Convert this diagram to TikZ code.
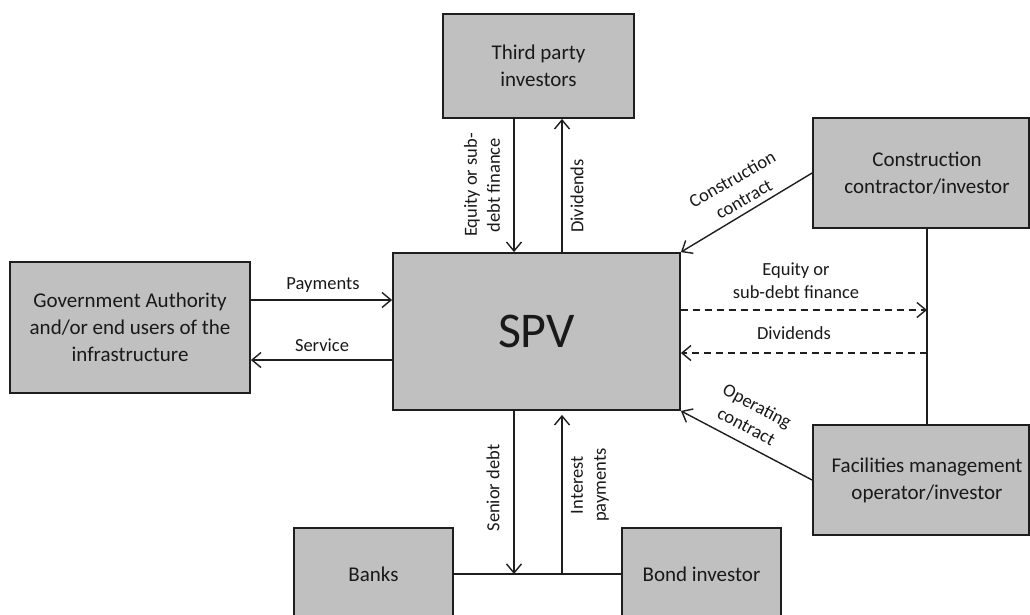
\documentclass[tikz,border=0pt]{standalone}
\usepackage{fontspec}
\setmainfont{Carlito}
\usetikzlibrary{arrows.meta}
\definecolor{boxgray}{HTML}{C0C0C0}
\definecolor{edge}{HTML}{1E1E1E}
\newcommand{\boxfont}{\fontsize{21}{27}\selectfont}
\newcommand{\lblfont}{\fontsize{18.5}{23}\selectfont}
\tikzset{
  box/.style={draw=edge, line width=1.8pt, fill=boxgray, inner sep=0pt,
    font=\boxfont, align=center, text=black!90},
  flow/.style={line width=1.4pt, draw=edge,
    -{Straight Barb[length=9pt,width=15pt,line width=1.4pt]}},
  link/.style={line width=1.4pt, draw=edge},
  dashflow/.style={flow, dash pattern=on 7pt off 5pt},
  lbl/.style={font=\lblfont, align=center, inner sep=1pt, text=black!90}
}
\begin{document}
\begin{tikzpicture}[x=1pt,y=-1pt]
\useasboundingbox (0,0) rectangle (1030,614);
\clip (0,0) rectangle (1030,614);

% parties
\node[box, minimum width=191pt, minimum height=104pt] (tp) at (538.5,66) {Third party\\investors};
\node[box, minimum width=240pt, minimum height=131pt] (gov) at (130,327.5) {Government Authority\\and/or end users of the\\infrastructure};
\node[box, minimum width=287pt, minimum height=157pt, font=\fontsize{50}{58}\selectfont] (spv) at (536.5,331.5) {SPV};
\node[box, minimum width=216pt, minimum height=110pt,
  label={[lbl, font=\boxfont, xshift=6pt]center:Construction\\contractor/investor}] (cc) at (921,173) {};
\node[box, minimum width=216pt, minimum height=110pt,
  label={[lbl, font=\boxfont, xshift=6pt]center:Facilities management\\operator/investor}] (fm) at (921,480) {};
\node[box, minimum width=159pt, minimum height=92pt] (banks) at (373.5,574) {Banks};
\node[box, minimum width=159pt, minimum height=92pt] (bond) at (701.5,574) {Bond investor};

% reference positions for the flows
\coordinate (xa) at (514,0);
\coordinate (xb) at (562,0);
\coordinate (xl) at (927,0);
\coordinate (ya) at (0,300);
\coordinate (yb) at (0,360);
\coordinate (eqend) at (927,310);
\coordinate (divstart) at (927,353);
\coordinate (sd) at (514,574);
\coordinate (ip) at (562,574);

% third party investors
\draw[flow] (tp.south -| xa) -- (spv.north -| xa);
\draw[flow] (spv.north -| xb) -- (tp.south -| xb);
\node[lbl, rotate=90] at (482,185) {Equity or sub-\\debt finance};
\node[lbl, rotate=90] at (577,196) {Dividends};

% government / users
\draw[flow] (gov.east |- ya) -- (spv.west |- ya);
\draw[flow] (spv.west |- yb) -- (gov.east |- yb);
\node[lbl] at (323,285) {Payments};
\node[lbl] at (322,345) {Service};

% contractor and operator
\draw[flow] (cc.west) -- (spv.north east);
\draw[flow] (fm.west) -- (spv.south east);
\draw[link] (cc.south -| xl) -- (fm.north -| xl);
\draw[dashflow] (spv.east |- eqend) -- (eqend);
\draw[dashflow] (divstart) -- (spv.east |- divstart);
\node[lbl, rotate=30] at (738,189) {Construction\\contract};
\node[lbl, rotate=-28] at (752,416) {Operating\\contract};
\node[lbl] at (796,280.5) {Equity or\\sub-debt finance};
\node[lbl] at (794,333) {Dividends};

% lenders
\draw[link] (banks.east) -- (bond.west);
\draw[flow] (spv.south -| xa) -- (sd);
\draw[flow, shorten >=4pt] (ip) -- (spv.south -| xb);
\node[lbl, rotate=90] at (493,488) {Senior debt};
\node[lbl, rotate=90] at (590,485) {Interest\\payments};
\end{tikzpicture}
\end{document}
